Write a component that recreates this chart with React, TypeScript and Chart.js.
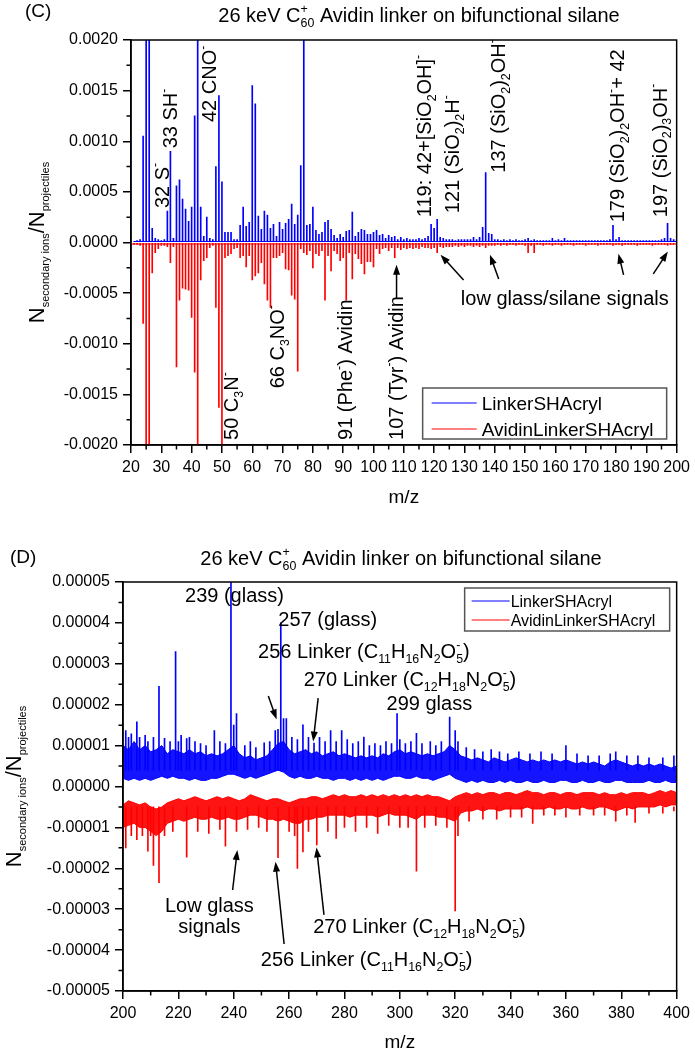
import React, { useEffect, useRef } from "react";
import { Chart, registerables } from "chart.js";
Chart.register(...registerables);

const FONT = '"Liberation Sans", Arial, Helvetica, sans-serif';
const fnt = (s: number) => `${s}px ${FONT}`;

// ---------------- Panel C data (m/z 21..200, units of 1e-4) ----------------
const mzStartC = 21;
const linkerC = [
  0.1, 0.2, 0.3, 10.5, 30, 30, 1.4, 0.4, 0.3, 0.2,
  0.3, 3.1, 9.0, 0.4, 5.6, 6.2, 4.3, 3.3, 2.1, 3.5,
  12.5, 30, 3.5, 0.6, 2.5, 0.4, 0.3, 7.5, 14.5, 6.0,
  1.0, 1.0, 1.0, 0.3, 0.3, 1.7, 3.5, 1.6, 2.0, 15.5,
  13.7, 2.6, 1.3, 3.1, 2.7, 1.4, 1.8, 0.6, 2.0, 1.3,
  1.9, 2.3, 3.8, 1.8, 2.7, 7.6, 30, 1.7, 1.8, 3.5,
  1.2, 0.8, 1.0, 2.0, 2.2, 1.3, 0.7, 0.4, 0.8, 0.5,
  1.1, 1.2, 3.0, 0.6, 1.0, 1.3, 1.2, 0.8, 0.8, 1.0,
  1.2, 0.7, 0.8, 0.4, 0.7, 0.5, 0.6, 0.3, 0.5, 0.3,
  0.4, 0.3, 0.3, 0.3, 0.4, 0.3, 0.4, 0.6, 1.8, 1.4,
  2.3, 0.5, 0.4, 0.3, 0.3, 0.3, 0.2, 0.3, 0.3, 0.3,
  0.3, 0.3, 0.5, 0.3, 0.5, 1.5, 6.9, 0.9, 0.8, 0.3,
  0.3, 0.2, 0.3, 0.2, 0.3, 0.2, 0.3, 0.2, 0.2, 0.3,
  0.4, 0.2, 0.3, 0.2, 0.2, 0.2, 0.2, 0.2, 0.4, 0.2,
  0.3, 0.2, 0.4, 0.2, 0.2, 0.2, 0.2, 0.2, 0.2, 0.2,
  0.2, 0.2, 0.2, 0.2, 0.2, 0.2, 0.2, 0.3, 1.7, 0.3,
  0.5, 0.2, 0.2, 0.2, 0.2, 0.2, 0.2, 0.2, 0.2, 0.2,
  0.2, 0.2, 0.2, 0.2, 0.3, 0.4, 1.9, 0.4, 0.3, 0.3,
];
const avidinC = [
  -0.2, -0.2, -0.3, -8.0, -30, -30, -3.0, -1.0, -0.6, -0.3,
  -0.3, -0.4, -2.0, -0.4, -12.3, -5.7, -4.5, -4.6, -4.7, -7.4,
  -12.8, -30, -3.7, -1.8, -1.5, -0.5, -0.3, -6.4, -16.3, -30,
  -1.5, -1.3, -1.1, -0.6, -0.5, -1.5, -1.3, -2.4, -1.3, -3.7,
  -3.3, -3.0, -2.0, -4.1, -5.7, -6.4, -1.5, -1.5, -1.3, -1.0,
  -2.6, -2.7, -5.2, -5.6, -12.7, -0.6, -1.0, -1.2, -0.8, -2.5,
  -1.1, -1.3, -0.8, -5.7, -1.3, -2.8, -0.8, -1.1, -1.8, -1.5,
  -5.7, -1.0, -3.6, -1.1, -1.6, -2.1, -3.1, -1.9, -1.9, -2.4,
  -0.6, -1.1, -0.6, -0.5, -0.8, -0.5, -1.5, -0.5, -0.7, -0.5,
  -0.6, -0.5, -0.6, -0.5, -0.6, -0.4, -0.5, -0.5, -0.6, -0.5,
  -1.0, -0.4, -0.5, -0.4, -0.4, -0.4, -0.3, -0.4, -0.3, -0.4,
  -0.3, -0.3, -0.4, -0.3, -0.4, -0.3, -0.5, -0.3, -0.3, -0.3,
  -0.2, -0.3, -0.2, -0.3, -0.2, -0.2, -0.3, -0.2, -0.2, -0.3,
  -1.0, -0.3, -1.0, -0.2, -0.2, -0.3, -0.2, -0.2, -0.3, -0.2,
  -0.2, -0.3, -0.2, -0.2, -0.2, -0.3, -0.2, -0.2, -0.2, -0.3,
  -0.2, -0.2, -0.2, -0.3, -0.2, -0.2, -0.2, -0.2, -0.3, -0.2,
  -0.2, -0.3, -0.2, -0.2, -0.2, -0.2, -0.3, -0.2, -0.2, -0.2,
  -0.2, -0.3, -0.2, -0.2, -0.2, -0.2, -0.3, -0.2, -0.2, -0.2,
];
const baselineLinkerC = 0.1;
const baselineAvidinC = -0.15;
const xTicksC = [20, 30, 40, 50, 60, 70, 80, 90, 100, 110, 120, 130, 140, 150, 160, 170, 180, 190, 200];
const xLabelsC = xTicksC.map(String);
const yTicksC = [-20, -15, -10, -5, 0, 5, 10, 15, 20];
const yLabelsC = ["-0.0020", "-0.0015", "-0.0010", "-0.0005", "0.0000", "0.0005", "0.0010", "0.0015", "0.0020"];

// ---------------- Panel D data (m/z 200..400 step 2, units of 1e-6) ----------------
const mzStartD = 200;
const mzStepD = 2;
const linkerHiD = [
  10, 9, 11, 9, 10, 8.5, 9, 10, 8, 9,
  8.5, 8, 9, 8, 8.5, 7.5, 8, 7.5, 8, 9,
  10, 8, 7, 7.5, 6.5, 7, 7.5, 9, 10.5, 11,
  9, 8, 8.5, 9, 8, 8.5, 7.5, 8, 8.5, 7.5,
  8, 7.5, 7, 7.5, 7, 7.5, 7, 8, 7.5, 8.5,
  9, 8, 8.5, 8, 7.5, 8, 7.5, 8, 8.5, 10,
  9, 7.5, 7, 6.5, 7, 6.5, 6, 7, 6.5, 6,
  6.5, 7, 6.5, 6, 6.5, 6, 6.5, 6, 6.5, 6,
  6.5, 6, 5.5, 6, 5.5, 6, 5.5, 5, 6, 6.5,
  6, 5.5, 5, 5.5, 5, 5.5, 5, 5.5, 5, 4.5,
  5,
];
const linkerLoD = [
  2, 1.5, 2, 1.5, 2, 1.5, 2, 2.5, 2, 2.5,
  2, 2, 1.5, 2, 1.5, 1.5, 2, 2, 2.5, 3,
  3, 2.5, 2, 2.5, 2, 2.5, 3, 3.5, 4, 3.5,
  2.5, 2, 2.5, 2, 2, 2.5, 2, 2, 1.5, 2,
  2, 1.5, 2, 1.5, 2, 1.5, 2, 1.5, 2, 2.5,
  2.5, 2, 2, 2.5, 2, 2, 1.5, 2, 2.5, 3,
  2, 1.5, 1, 1.5, 1, 1.5, 1, 1, 1.5, 1,
  1.5, 1, 1, 1.5, 1, 1, 1.5, 1, 1, 1.5,
  1.5, 1, 1, 1.5, 1, 1, 1.5, 1, 1, 1.5,
  1.5, 1, 1, 1, 1, 1.5, 1, 1, 1.5, 1,
  1,
];
const avidinHiD = [
  -4.5, -3.5, -4, -4.5, -4, -5, -5.5, -5, -4, -3.5,
  -3, -3.5, -3, -2.5, -3, -3.5, -3, -2.5, -3, -2.5,
  -3, -3.5, -3, -2, -2.5, -3, -3.5, -3, -3, -3.5,
  -4, -3.5, -3, -3, -2.5, -2.5, -3, -2.5, -2, -2.5,
  -2, -2.5, -2.5, -2, -2.5, -2, -2.5, -2, -2.5, -2,
  -2.5, -2, -2.5, -2, -2.5, -2, -2.5, -2.5, -3, -3.5,
  -2.5, -2, -1.5, -2, -1.5, -2, -1.5, -1.5, -2, -1.5,
  -1.5, -2, -1.5, -1, -1.5, -1.5, -2, -1.5, -1.5, -2,
  -1.5, -1.5, -2, -1.5, -1.5, -1.5, -2, -1.5, -2, -2,
  -1.5, -2, -1.5, -1.5, -1.5, -2, -1.5, -1, -1.5, -1,
  -1.5,
];
const avidinLoD = [
  -10, -9.5, -9, -10, -10, -11, -12, -11, -9, -8.5,
  -8, -8.5, -8, -7.5, -8, -8, -7.5, -8, -8, -7.5,
  -8, -8, -7.5, -7, -7, -7.5, -8, -8, -8.5, -8,
  -8.5, -9, -9, -8, -8, -7.5, -7.5, -7, -7, -7,
  -7, -7.5, -7, -7, -7, -7, -7.5, -7, -6.5, -7,
  -7, -7, -7.5, -8, -7, -7, -7, -7.5, -7.5, -8,
  -8.5, -6.5, -6, -6, -5.5, -6, -5.5, -5.5, -6, -5.5,
  -5.5, -5.5, -5.5, -5, -5.5, -5.5, -5.5, -5, -5.5, -5.5,
  -5, -5.5, -5.5, -5, -5.5, -5.5, -5, -5, -5.5, -6,
  -5.5, -5, -5.5, -5, -5, -5, -5, -4.5, -5, -4.5,
  -4.5,
];
const linkerPeakMzD = [
  201, 202, 203, 205, 206, 208, 209, 211, 213, 215, 217, 219, 220, 221, 223, 224, 226, 228, 230, 233,
  235, 237, 239, 240, 241, 244, 246, 248, 251, 253, 255, 256, 257, 258, 259, 261, 263, 265, 267, 269,
  271, 273, 275, 277, 279, 281, 283, 285, 287, 289, 291, 293, 295, 297, 299, 300, 302, 304, 306, 308,
  311, 313, 315, 318, 320, 321, 324, 327, 330, 333, 336, 339, 343, 347, 351, 355, 360, 364, 368, 372,
  376, 378, 382, 386, 390, 395, 399,
];
const linkerPeakD = [
  13.7, 12, 12.9, 15.8, 12, 12.5, 11, 12, 24.5, 11.8, 11, 33, 11, 12.5, 11.7, 12, 11, 10.5, 10, 13.7,
  11, 10.5, 55, 15, 17.8, 10, 11, 9.5, 10.7, 11, 13.7, 14, 40, 16.6, 16.6, 12, 11.5, 15.1, 12, 10.6,
  12, 11, 13.7, 11, 13.7, 11.5, 10.5, 11, 12.1, 10, 10.5, 10, 11, 10.5, 17.8, 11.5, 10.5, 11, 13, 10.5,
  11, 10, 11, 17, 13.7, 11, 9.5, 9, 8.5, 9, 8.5, 8, 8.5, 8, 8.5, 8, 10, 8, 7.5, 7.5,
  8, 8.5, 7.5, 7.5, 7, 7, 7.5,
];
const avidinPeakMzD = [
  201, 203, 205, 207, 209, 210, 211, 213, 215, 218, 223, 227, 231, 235, 237, 241, 245, 249, 252, 256,
  260, 262, 263, 265, 267, 270, 274, 277, 280, 284, 288, 292, 296, 300, 303, 306, 309, 313, 317, 320,
  321, 325, 330, 335, 340, 344, 348, 352, 356, 360, 365, 370, 374, 378, 382, 385, 390, 395, 399,
];
const avidinPeakD = [
  -15, -12, -13, -12, -15.8, -12, -19.3, -23.5, -12, -11, -17.3, -11, -11.5, -10.5, -14.6, -11, -10.5, -10, -11, -17.4,
  -11, -12, -20, -16, -11, -14.3, -11, -12.7, -10, -11, -10, -11.5, -9.5, -10, -10, -20.7, -10, -9.5, -10, -30.4,
  -12, -8.5, -8, -8, -7.5, -7.5, -9, -7, -7, -7.5, -7, -7, -7, -8.5, -7, -8.8, -6.5, -6.5, -6,
];
const spikeBaseLinkerD = 4;
const spikeBaseAvidinD = -5;
const xTicksD = [200, 220, 240, 260, 280, 300, 320, 340, 360, 380, 400];
const xLabelsD = xTicksD.map(String);
const yTicksD = [-50, -40, -30, -20, -10, 0, 10, 20, 30, 40, 50];
const yLabelsD = ["-0.00005", "-0.00004", "-0.00003", "-0.00002", "-0.00001", "0.00000", "0.00001", "0.00002", "0.00003", "0.00004", "0.00005"];

const seriesNames = ["LinkerSHAcryl", "AvidinLinkerSHAcryl"];
const BLUE = "#0000ff";
const RED = "#ff0000";

// ---------------- annotations (data coordinates) ----------------
const rotLabelsC = [
  { t: "32 S^{-}", m: 30.1, v: 3.4 },
  { t: "33 SH^{-}", m: 32.9, v: 9.3 },
  { t: "42 CNO^{-}", m: 45.8, v: 11.9 },
  { t: "119: 42+[SiO_{2}OH]^{-}", m: 116.6, v: 2.5 },
  { t: "121 (SiO_{2})_{2}H^{-}", m: 125.9, v: 2.9 },
  { t: "137 (SiO_{2})_{2}OH^{-}", m: 141.1, v: 6.9 },
  { t: "179 (SiO_{2})_{2}OH^{-}+ 42", m: 180.3, v: 2.0 },
  { t: "197 (SiO_{2})_{3}OH^{-}", m: 194.4, v: 2.5 },
  { t: "50 C_{3}N^{-}", m: 52.9, v: -19.5 },
  { t: "66 C_{3}NO^{-}", m: 68.1, v: -14.4 },
  { t: "91 (Phe^{-}) Avidin", m: 90.5, v: -19.5 },
  { t: "107 (Tyr^{-}) Avidin", m: 107.3, v: -19.5 },
];
const horLabelsC = [{ t: "low glass/silane signals", m: 163.1, v: -6.2, align: "center" }];
const arrowsC = [
  [129.7, -3.7, 122.1, -1.2],
  [141.3, -3.6, 138.4, -1.2],
  [182.5, -3.2, 180.8, -1.1],
  [192.3, -3.1, 197.1, -0.9],
  [107.6, -5.5, 107.6, -2.2],
];
const horLabelsD = [
  { t: "239 (glass)", m: 222.4, v: 45.2, align: "left" },
  { t: "257 (glass)", m: 256.1, v: 39.2, align: "left" },
  { t: "256 Linker (C_{11}H_{16}N_{2}O_{5}^{-})", m: 248.8, v: 31.4, align: "left" },
  { t: "270 Linker (C_{12}H_{18}N_{2}O_{5}^{-})", m: 265.3, v: 24.6, align: "left" },
  { t: "299 glass", m: 295.2, v: 18.7, align: "left" },
  { t: "Low glass", m: 231.2, v: -30.6, align: "center" },
  { t: "signals", m: 231.2, v: -35.8, align: "center" },
  { t: "270 Linker (C_{12}H_{18}N_{2}O_{5}^{-})", m: 268.7, v: -35.9, align: "left" },
  { t: "256 Linker (C_{11}H_{16}N_{2}O_{5}^{-})", m: 249.8, v: -43.9, align: "left" },
];
const arrowsD = [
  [252.5, 22.1, 255.5, 16.4],
  [270.5, 21.6, 268.7, 11],
  [239.6, -25.3, 241.3, -15.5],
  [258.2, -38.5, 255.1, -18.4],
  [272.6, -31.4, 269.9, -14.9],
];

// ---------------- rich text helpers ----------------
type Seg = { t: string; k: "n" | "sub" | "sup" };
function parseRich(s: string): Seg[] {
  const segs: Seg[] = [];
  let buf = "";
  let i = 0;
  while (i < s.length) {
    const c = s[i];
    if ((c === "_" || c === "^") && s[i + 1] === "{") {
      if (buf) { segs.push({ t: buf, k: "n" }); buf = ""; }
      const end = s.indexOf("}", i + 2);
      segs.push({ t: s.slice(i + 2, end), k: c === "_" ? "sub" : "sup" });
      i = end + 1;
    } else { buf += c; i++; }
  }
  if (buf) segs.push({ t: buf, k: "n" });
  return segs;
}
function drawRich(ctx: CanvasRenderingContext2D, text: string, x: number, y: number, opt: any) {
  const size = opt.size;
  const subScale = opt.subScale ?? 0.62;
  const subDy = opt.subDy ?? size * 0.24;
  const supDy = opt.supDy ?? -size * 0.46;
  const items: any[] = [];
  let cx = 0, subStart = 0, lastSub = false;
  for (const s of parseRich(text)) {
    const sz = s.k === "n" ? size : size * subScale;
    ctx.font = fnt(sz);
    const w = ctx.measureText(s.t).width;
    if (s.k === "n") { items.push({ t: s.t, x: cx, dy: 0, sz }); cx += w; lastSub = false; }
    else if (s.k === "sub") { items.push({ t: s.t, x: cx, dy: subDy, sz }); subStart = cx; cx += w; lastSub = true; }
    else { const sx = lastSub ? subStart : cx; items.push({ t: s.t, x: sx, dy: supDy, sz }); cx = Math.max(cx, sx + w); lastSub = false; }
  }
  const x0 = opt.align === "center" ? x - cx / 2 : opt.align === "right" ? x - cx : x;
  ctx.textAlign = "left";
  ctx.textBaseline = "alphabetic";
  for (const it of items) { ctx.font = fnt(it.sz); ctx.fillText(it.t, x0 + it.x, y + it.dy); }
  return cx;
}
function arrow(ctx: CanvasRenderingContext2D, x1: number, y1: number, x2: number, y2: number) {
  const a = Math.atan2(y2 - y1, x2 - x1);
  const L = 10, W = 3.5;
  ctx.beginPath();
  ctx.moveTo(x1, y1);
  ctx.lineTo(x2 - (L - 2) * Math.cos(a), y2 - (L - 2) * Math.sin(a));
  ctx.lineWidth = 1.5;
  ctx.strokeStyle = "#000";
  ctx.stroke();
  ctx.beginPath();
  ctx.moveTo(x2, y2);
  ctx.lineTo(x2 - L * Math.cos(a) + W * Math.sin(a), y2 - L * Math.sin(a) - W * Math.cos(a));
  ctx.lineTo(x2 - L * Math.cos(a) - W * Math.sin(a), y2 - L * Math.sin(a) + W * Math.cos(a));
  ctx.closePath();
  ctx.fill();
}
const mids = (arr: number[]) => arr.slice(1).map((v, i) => (v + arr[i]) / 2);

function decorPlugin(d: any) {
  return {
    id: "decor",
    afterDraw(chart: any) {
      const ctx: CanvasRenderingContext2D = chart.ctx;
      const a = chart.chartArea;
      const xs = chart.scales.x, ys = chart.scales.y;
      const X = (m: number) => xs.getPixelForValue(m);
      const Y = (v: number) => ys.getPixelForValue(v);
      ctx.save();
      ctx.strokeStyle = "#000";
      ctx.lineWidth = 1.5;
      ctx.strokeRect(a.left, a.top, a.right - a.left, a.bottom - a.top);
      ctx.beginPath();
      for (const m of d.minorX) { const px = X(m); ctx.moveTo(px, a.bottom); ctx.lineTo(px, a.bottom + 4.5); }
      for (const v of d.minorY) { const py = Y(v); ctx.moveTo(a.left, py); ctx.lineTo(a.left - 4.5, py); }
      ctx.stroke();
      ctx.fillStyle = "#000";
      drawRich(ctx, "26 keV C_{60}^{+} Avidin linker on bifunctional silane", d.titleX, d.titleY, { size: 20, align: "center" });
      ctx.font = fnt(19);
      ctx.textAlign = "left";
      ctx.fillText(d.panel, d.panelX, d.panelY);
      ctx.save();
      ctx.translate(d.yTitleX, (a.top + a.bottom) / 2);
      ctx.rotate(-Math.PI / 2);
      drawRich(ctx, "N_{secondary ions}/N_{projectiles}", 0, 0, { size: 22, subScale: 0.5, subDy: 5, align: "center" });
      ctx.restore();
      ctx.font = fnt(19);
      ctx.textAlign = "center";
      ctx.fillText("m/z", (a.left + a.right) / 2, d.xTitleY);
      for (const r of d.rot) {
        ctx.save();
        ctx.translate(X(r.m), Y(r.v));
        ctx.rotate(-Math.PI / 2);
        drawRich(ctx, r.t, 0, 7, { size: 20 });
        ctx.restore();
      }
      for (const h of d.hor) drawRich(ctx, h.t, X(h.m), Y(h.v), { size: 20, align: h.align });
      for (const ar of d.arrows) arrow(ctx, X(ar[0]), Y(ar[1]), X(ar[2]), Y(ar[3]));
      // legend
      const L = d.legend;
      const bx = a.right - L.right - L.w;
      const by = L.fromTop ? a.top + L.off : a.bottom - L.off - L.h;
      ctx.fillStyle = "#fff";
      ctx.fillRect(bx, by, L.w, L.h);
      ctx.strokeStyle = "#555";
      ctx.lineWidth = 1.5;
      ctx.strokeRect(bx, by, L.w, L.h);
      const cols = [BLUE, RED];
      for (let i = 0; i < 2; i++) {
        const cy = by + L.rows[i];
        ctx.strokeStyle = cols[i];
        ctx.lineWidth = 1;
        ctx.beginPath();
        ctx.moveTo(bx + L.s1, cy);
        ctx.lineTo(bx + L.s2, cy);
        ctx.stroke();
        ctx.fillStyle = "#000";
        ctx.font = fnt(L.size);
        ctx.textAlign = "left";
        ctx.textBaseline = "alphabetic";
        ctx.fillText(seriesNames[i], bx + L.tx, cy + L.size * 0.36);
      }
      ctx.restore();
    },
  };
}

function axis(min: number, max: number, ticks: number[], labels: string[], isX: boolean, fit: number) {
  return {
    type: "linear",
    min,
    max,
    offset: false,
    afterBuildTicks: (s: any) => { s.ticks = ticks.map((v) => ({ value: v })); },
    afterFit: (s: any) => { if (isX) s.height = fit; else s.width = fit; },
    ticks: {
      autoSkip: false,
      maxRotation: 0,
      minRotation: 0,
      color: "#000",
      padding: 5,
      font: { family: FONT, size: 16 },
      callback: (v: number) => labels[ticks.indexOf(v)] ?? "",
    },
    grid: { display: true, drawOnChartArea: false, drawTicks: true, tickLength: 8, color: "#000", lineWidth: 1.5, offset: false },
    border: { display: true, color: "#000", width: 1.5 },
  };
}

function configC(): any {
  const mz = linkerC.map((_, i) => mzStartC + i);
  return {
    type: "bar",
    data: {
      datasets: [
        { type: "line", data: [{ x: mzStartC, y: baselineLinkerC }, { x: 200, y: baselineLinkerC }], borderColor: BLUE, borderWidth: 1, pointRadius: 0, order: 0 },
        { type: "bar", label: seriesNames[0], data: mz.map((m, i) => ({ x: m, y: linkerC[i] })), backgroundColor: BLUE, barThickness: 1, grouped: false, order: 1 },
        { type: "bar", label: seriesNames[1], data: mz.map((m, i) => ({ x: m, y: avidinC[i] })), backgroundColor: RED, barThickness: 1, grouped: false, order: 2 },
        { type: "line", data: [{ x: 20, y: baselineAvidinC }, { x: 200, y: baselineAvidinC }], borderColor: RED, borderWidth: 1, pointRadius: 0, order: 3 },
      ],
    },
    options: {
      responsive: false,
      animation: false,
      devicePixelRatio: 1,
      events: [],
      layout: { padding: { top: 40, right: 13, left: 0, bottom: 0 } },
      plugins: { legend: { display: false }, tooltip: { enabled: false } },
      scales: {
        x: axis(20, 200, xTicksC, xLabelsC, true, 75),
        y: axis(-20, 20, yTicksC, yLabelsC, false, 131),
      },
    },
    plugins: [
      decorPlugin({
        minorX: mids(xTicksC), minorY: mids(yTicksC),
        titleX: 419, titleY: 22, panel: "(C)", panelX: 25, panelY: 17,
        yTitleX: 44, xTitleY: 503,
        rot: rotLabelsC, hor: horLabelsC, arrows: arrowsC,
        legend: { w: 244, h: 51, right: 10, off: 6, fromTop: false, s1: 9, s2: 54, tx: 59, rows: [15, 41], size: 19 },
      }),
    ],
  };
}

function configD(): any {
  const mz = linkerHiD.map((_, i) => mzStartD + mzStepD * i);
  const line = (vals: number[], color: string, fill: any, order: number) => ({
    type: "line",
    data: mz.map((m, i) => ({ x: m, y: vals[i] })),
    borderColor: color,
    borderWidth: 1,
    pointRadius: 0,
    tension: 0,
    fill,
    backgroundColor: color === BLUE ? "rgba(0,0,255,0.92)" : "rgba(255,0,0,0.92)",
    order,
  });
  return {
    type: "bar",
    data: {
      datasets: [
        line(linkerHiD, BLUE, "+1", 2),
        line(linkerLoD, BLUE, false, 2),
        line(avidinHiD, RED, "+1", 3),
        line(avidinLoD, RED, false, 3),
        { type: "bar", data: linkerPeakMzD.map((m, i) => ({ x: m, y: [spikeBaseLinkerD, linkerPeakD[i]] })), backgroundColor: BLUE, barThickness: 1, grouped: false, order: 0 },
        { type: "bar", data: avidinPeakMzD.map((m, i) => ({ x: m, y: [spikeBaseAvidinD, avidinPeakD[i]] })), backgroundColor: RED, barThickness: 1, grouped: false, order: 1 },
      ],
    },
    options: {
      responsive: false,
      animation: false,
      devicePixelRatio: 1,
      events: [],
      layout: { padding: { top: 62, right: 18, left: 0, bottom: 0 } },
      plugins: { legend: { display: false }, tooltip: { enabled: false } },
      scales: {
        x: axis(200, 400, xTicksD, xLabelsD, true, 59),
        y: axis(-50, 50, yTicksD, yLabelsD, false, 123),
      },
    },
    plugins: [
      decorPlugin({
        minorX: mids(xTicksD), minorY: mids(yTicksD),
        titleX: 401, titleY: 45, panel: "(D)", panelX: 10, panelY: 43,
        yTitleX: 21, xTitleY: 528,
        rot: [], hor: horLabelsD, arrows: arrowsD,
        legend: { w: 205, h: 43, right: 7, off: 6, fromTop: true, s1: 7, s2: 45, tx: 46, rows: [13, 32], size: 16 },
      }),
    ],
  };
}

export default function App() {
  const refC = useRef<HTMLCanvasElement>(null);
  const refD = useRef<HTMLCanvasElement>(null);
  useEffect(() => {
    const c1 = new Chart(refC.current as HTMLCanvasElement, configC());
    const c2 = new Chart(refD.current as HTMLCanvasElement, configD());
    return () => { c1.destroy(); c2.destroy(); };
  }, []);
  return (
    <div style={{ position: "absolute", left: 0, top: 0, width: 695, height: 1050, background: "#fff" }}>
      <canvas ref={refC} width={695} height={520} style={{ position: "absolute", left: 0, top: 0, width: 695, height: 520 }} />
      <canvas ref={refD} width={695} height={530} style={{ position: "absolute", left: 0, top: 520, width: 695, height: 530 }} />
    </div>
  );
}
